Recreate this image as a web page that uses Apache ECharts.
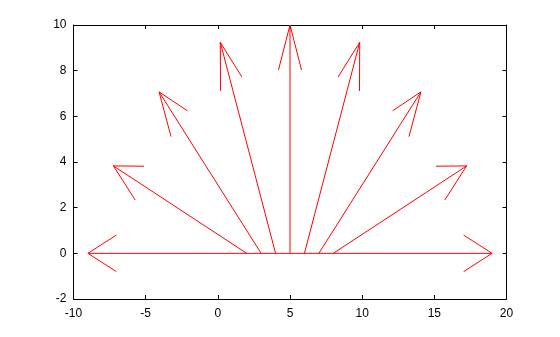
<!DOCTYPE html>
<html><head><meta charset="utf-8">
<script src="https://cdn.jsdelivr.net/npm/echarts@6/dist/echarts.min.js"></script>
<style>html,body{margin:0;padding:0;background:#fff}#c{width:560px;height:337px}</style>
</head><body><div id="c"></div>
<script>
// Vector data: start point and displacement
var xStart = [5, 2, 3, 4, 5, 6, 7, 8, 5];
var yStart = [0, 0, 0, 0, 0, 0, 0, 0, 0];
var dxVal  = [-14, -9.24, -7.07, -3.83, 0, 3.83, 7.07, 9.24, 14];
var dyVal  = [0, 3.83, 7.07, 9.24, 10, 9.24, 7.07, 3.83, 0];
var xTicks = [-10, -5, 0, 5, 10, 15, 20];
var yTicks = [-2, 0, 2, 4, 6, 8, 10];

var HEAD_BACK = 1.97, HEAD_SIDE = 0.8; // arrowhead size in data units

var data = xStart.map(function (x, i) { return [x, yStart[i], dxVal[i], dyVal[i]]; });

var chart = echarts.init(document.getElementById('c'), null, {renderer: 'canvas'});
var font = {fontFamily: 'Liberation Sans, Arial, sans-serif', fontSize: 12, color: '#000'};
function axisCommon(extra) {
  return Object.assign({
    type: 'value',
    axisLine: {show: true, onZero: false, lineStyle: {color: '#000', width: 1}},
    axisTick: {show: true, inside: true, length: 4, lineStyle: {color: '#000'}},
    splitLine: {show: false}
  }, extra);
}
chart.setOption({
  animation: false,
  grid: {left: 73.5, right: 53.5, top: 25, bottom: 38, containLabel: false},
  xAxis: [
    axisCommon({min: xTicks[0], max: xTicks[xTicks.length - 1], interval: 5, position: 'bottom',
      axisLabel: Object.assign({margin: 9}, font)}),
    axisCommon({min: xTicks[0], max: xTicks[xTicks.length - 1], interval: 5, position: 'top',
      axisLabel: {show: false}})
  ],
  yAxis: [
    axisCommon({min: yTicks[0], max: yTicks[yTicks.length - 1], interval: 2, position: 'left',
      axisLabel: Object.assign({margin: 7}, font)}),
    axisCommon({min: yTicks[0], max: yTicks[yTicks.length - 1], interval: 2, position: 'right',
      axisLabel: {show: false}})
  ],
  series: [{
    type: 'custom',
    xAxisIndex: 0, yAxisIndex: 0,
    silent: true,
    data: data,
    encode: {x: 0, y: 1},
    renderItem: function (params, api) {
      var x0 = api.value(0), y0 = api.value(1), dx = api.value(2), dy = api.value(3);
      var len = Math.sqrt(dx * dx + dy * dy);
      var ux = dx / len, uy = dy / len;
      var tx = x0 + dx, ty = y0 + dy;
      var bx = tx - ux * HEAD_BACK, by = ty - uy * HEAD_BACK;
      var h1 = [bx - uy * HEAD_SIDE, by + ux * HEAD_SIDE];
      var h2 = [bx + uy * HEAD_SIDE, by - ux * HEAD_SIDE];
      var p0 = api.coord([x0, y0]), pt = api.coord([tx, ty]);
      var q1 = api.coord(h1), q2 = api.coord(h2);
      var style = {stroke: '#ff0000', lineWidth: 1, fill: 'none'};
      return {
        type: 'group',
        children: [
          {type: 'polyline', shape: {points: [p0, pt]}, style: style},
          {type: 'polyline', shape: {points: [q1, pt, q2]}, style: style}
        ]
      };
    }
  }]
});
</script></body></html>
